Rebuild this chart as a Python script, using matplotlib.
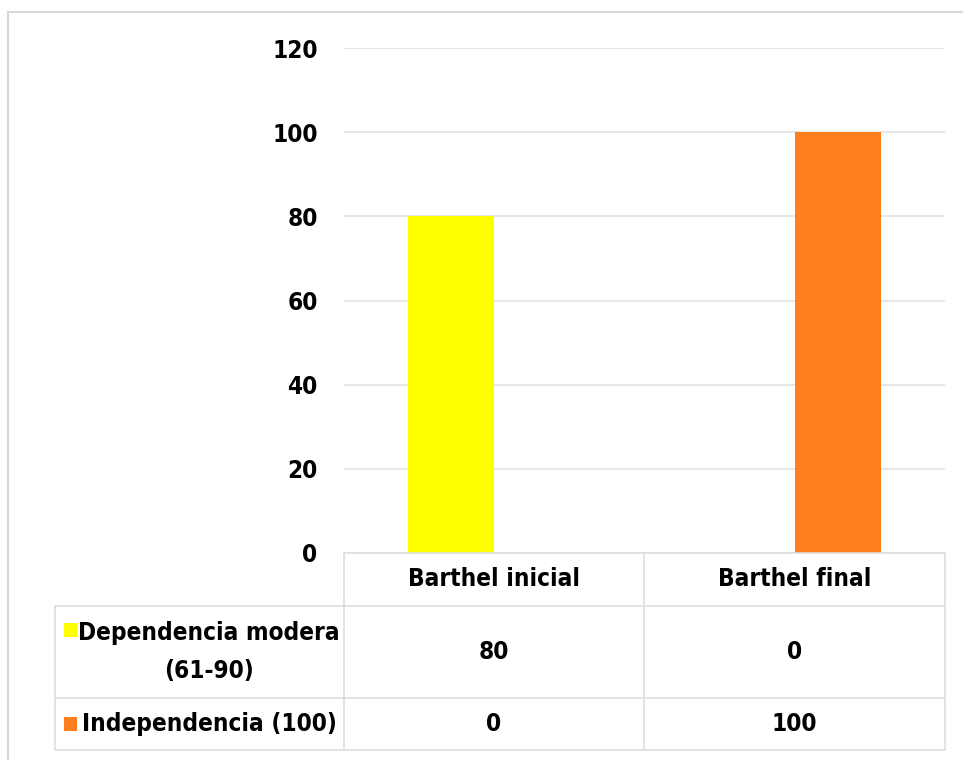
import matplotlib
matplotlib.use("Agg")
import matplotlib.pyplot as plt
from matplotlib.patches import Rectangle
from matplotlib.lines import Line2D
import numpy as np

categories = ["Barthel inicial", "Barthel final"]
series_names = ["Dependencia modera\n(61-90)", "Independencia (100)"]
series_values = [[80, 0], [0, 100]]
series_colors = ["#FFFF00", "#FF7F1F"]
yticks = [0, 20, 40, 60, 80, 100, 120]

plt.rcParams['font.family'] = ['DejaVu Sans']
plt.rcParams['font.stretch'] = 'condensed'
FS = 17.5
TXT = dict(fontsize=FS, fontweight='bold', fontstretch='condensed')

W, H = 963, 760
fig = plt.figure(figsize=(W/100, H/100), dpi=100)

def fx(x): return x / W
def fy(y): return 1 - y / H

# outer chart border (right and bottom edges fall outside the canvas)
fig.add_artist(Rectangle((fx(8), fy(800)), fx(1100) - fx(8), fy(12) - fy(800),
                         transform=fig.transFigure, fill=False, edgecolor="#d9d9d9", lw=1.5))

L, R, T, B = 344, 945, 48, 553
ax = fig.add_axes([fx(L), fy(B), fx(R) - fx(L), fy(T) - fy(B)])
n = len(series_names)
bw = 0.287
x = np.arange(len(categories))
for i, (vals, col) in enumerate(zip(series_values, series_colors)):
    ax.bar(x + (i - (n - 1) / 2) * bw, vals, width=bw, color=col, zorder=3)
ax.set_xlim(-0.5, len(categories) - 0.5)
ax.set_ylim(0, 120)
ax.set_yticks(yticks)
ax.set_yticklabels([str(t) for t in yticks], **TXT)
ax.tick_params(axis='y', length=0, pad=19)
ax.set_xticks([])
for s in ax.spines.values():
    s.set_visible(False)
ax.grid(axis='y', color="#e3e3e3", lw=1.2, zorder=0)

# data table
lc = "#dedede"
row_y = [553, 606, 698, 750]
col_x = [55, 344, 644, 945]
def hline(y, x0, x1):
    fig.add_artist(Line2D([fx(x0), fx(x1)], [fy(y), fy(y)], transform=fig.transFigure, color=lc, lw=1.2))
def vline(x, y0, y1):
    fig.add_artist(Line2D([fx(x), fx(x)], [fy(y0), fy(y1)], transform=fig.transFigure, color=lc, lw=1.2))

hline(row_y[0], col_x[1], col_x[3])
for y in row_y[1:]:
    hline(y, col_x[0], col_x[3])
vline(col_x[0], row_y[1], row_y[3])
vline(col_x[1], row_y[0], row_y[3])
vline(col_x[2], row_y[0], row_y[3])
vline(col_x[3], row_y[0], row_y[3])

# header
for j, c in enumerate(categories):
    cx = (col_x[j + 1] + col_x[j + 2]) / 2
    fig.text(fx(cx), fy((row_y[0] + row_y[1]) / 2), c, ha='center', va='center', **TXT)

for i, (name, vals, col) in enumerate(zip(series_names, series_values, series_colors)):
    cy = (row_y[i + 1] + row_y[i + 2]) / 2
    tx = 209
    key_y = cy - 22 if "\n" in name else cy
    fig.text(fx(tx), fy(cy), name, ha='center', va='center',
             linespacing=1.75, multialignment='center', **TXT)
    fig.add_artist(Rectangle((fx(64), fy(key_y + 7)), 13 / W, 14 / H,
                             transform=fig.transFigure, facecolor=col, edgecolor='none'))
    for j, v in enumerate(vals):
        cx = (col_x[j + 1] + col_x[j + 2]) / 2
        fig.text(fx(cx), fy(cy), str(v), ha='center', va='center', **TXT)

fig.savefig("out.png", dpi=100, facecolor="white")
